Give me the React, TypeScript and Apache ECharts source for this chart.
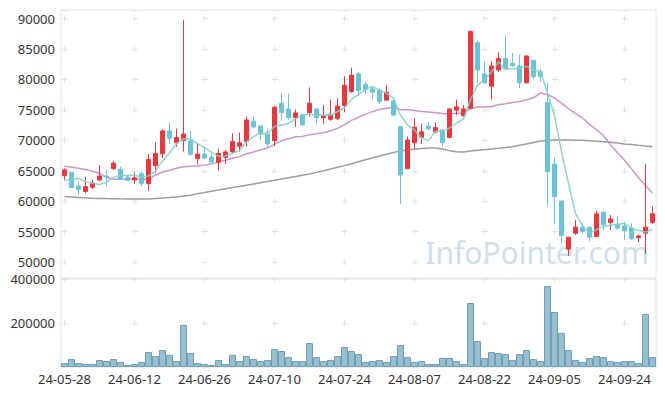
import React, { useEffect, useRef } from "react";
import * as echarts from "echarts";

const dates = [
  "24-05-28","24-05-29","24-05-30","24-05-31",
  "24-06-03","24-06-04","24-06-05","24-06-07","24-06-10","24-06-11","24-06-12","24-06-13","24-06-14","24-06-17","24-06-18","24-06-19","24-06-20","24-06-21","24-06-24","24-06-25","24-06-26","24-06-27","24-06-28",
  "24-07-01","24-07-02","24-07-03","24-07-04","24-07-05","24-07-08","24-07-09","24-07-10","24-07-11","24-07-12","24-07-15","24-07-16","24-07-17","24-07-18","24-07-19","24-07-22","24-07-23","24-07-24","24-07-25","24-07-26","24-07-29","24-07-30","24-07-31",
  "24-08-01","24-08-02","24-08-05","24-08-06","24-08-07","24-08-08","24-08-09","24-08-12","24-08-13","24-08-14","24-08-16","24-08-19","24-08-20","24-08-21","24-08-22","24-08-23","24-08-26","24-08-27","24-08-28","24-08-29","24-08-30",
  "24-09-02","24-09-03","24-09-04","24-09-05","24-09-06","24-09-09","24-09-10","24-09-11","24-09-12","24-09-13","24-09-19","24-09-20","24-09-23","24-09-24","24-09-25","24-09-26","24-09-27","24-09-30"
];

const opens = [64200,64750,62500,61600,62300,63500,64150,65350,65250,63950,63500,64500,62900,65850,67800,71550,69600,69950,69900,67000,67750,67250,66400,67200,68100,69050,69800,73150,72350,71050,69950,76100,75150,73750,74200,74550,75150,73700,73450,73550,75700,78000,80900,79150,78450,78250,76600,76500,72250,65350,69600,70500,72350,71350,71700,70450,74950,74050,75250,86050,80900,78900,81550,83450,82600,82200,79450,83150,81250,76200,66100,60050,52150,54750,55750,55750,54200,58200,56500,56250,55950,55600,54000,54750,56500];
const closes = [65150,62250,61950,62400,63000,64150,64000,66250,63600,63450,63850,62950,66900,67850,71550,70350,70450,71050,67700,67750,67100,66450,67850,68100,69800,69600,73350,72200,71000,69400,75450,74550,73700,74500,72550,76100,73700,74000,74250,75650,79050,80700,78150,78350,77900,76350,77900,74150,64300,70050,72150,71400,71900,72100,69600,75150,75500,75150,87900,81550,79450,82200,83450,81700,82250,79450,83850,80450,80450,64850,60750,54400,54100,55750,55050,54100,57950,56100,57100,55600,55200,53850,54300,55750,57950];
const lows = [63500,62200,61150,61300,62000,63250,62400,65150,63500,63350,62800,62500,61700,64600,67050,69400,68950,68150,67450,66050,66950,66350,65050,66100,67750,68150,68950,71950,70050,68950,69050,73200,73350,72250,72350,73900,72600,72700,73200,73350,74600,77800,77250,77600,76700,75950,76600,74000,59550,65300,68500,69400,71550,71150,68950,70350,74150,73900,75250,79450,79350,76700,81250,81700,82100,78550,79350,80050,79600,59150,56300,53100,51050,54500,54750,53400,54200,55200,55300,55300,53650,53650,53250,51350,56300];
const highs = [65400,64800,63250,64050,63500,65950,65150,66600,65700,64150,64700,64900,67750,69650,71850,72950,71950,89800,71550,69400,68950,67850,68600,68400,71150,71300,73900,73950,72350,71950,75650,77700,77700,75100,74200,78700,75200,75800,76700,76900,80550,81950,81250,79600,78900,78550,79050,76900,72350,70600,73600,72700,73050,72900,71700,75250,76700,75800,87950,86350,82900,83000,84450,87250,84350,84000,84000,83150,81800,79350,67200,60050,54100,56950,56400,55750,58450,58300,57750,57500,56650,56400,54500,66100,59150];

const ma5 = [63390,63500,63770,63220,62950,62750,63100,63960,64200,64290,64230,64020,64150,65000,66620,67920,69420,70250,70220,69460,68810,68010,67370,67450,67860,68360,69740,70610,71190,71110,72280,72520,72820,73520,74150,74280,74110,74170,74120,74740,75330,76730,77560,78380,78830,78290,77730,76930,74120,72550,71710,70410,69960,71520,71430,72030,72850,73500,76660,79050,79910,81250,82910,81670,81810,81810,82140,81540,81290,77810,74070,68180,62910,57970,56010,54680,55390,55790,56060,56170,56390,55570,55210,54940,55410];
const ma20 = [65790,65600,65400,65200,64900,64590,63950,63610,63600,63600,63600,63600,63610,64320,64800,65100,65420,65680,65750,65830,65930,66140,66430,66720,67060,67330,67800,68100,68470,68760,69340,69920,70260,70600,70650,70930,71100,71240,71570,71970,72560,73280,73790,74300,74710,75050,75270,75370,75040,75070,74900,74750,74660,74540,74390,74340,74430,74490,75170,75470,75490,75560,75830,75990,76210,76370,76660,76980,77790,77530,76960,76110,75220,74400,73670,72620,71740,70790,69250,67950,66740,65320,63860,62570,61350];
const ma60 = [60770,60700,60630,60560,60500,60470,60440,60420,60400,60390,60385,60385,60390,60450,60530,60610,60700,60850,61000,61250,61450,61650,61850,62050,62250,62420,62620,62820,63030,63240,63445,63650,63860,64070,64280,64480,64740,65010,65290,65570,65850,66170,66480,66800,67120,67430,67720,68000,68250,68400,68530,68650,68750,68750,68580,68310,68140,68080,68250,68360,68470,68580,68690,68830,68960,69180,69400,69650,69890,69980,70050,70060,70050,70030,70000,69920,69870,69780,69680,69560,69400,69320,69180,69070,68960];

const volumes = [18000,36000,18000,14000,14000,32000,27000,36000,23000,9000,14000,23000,68000,50000,77000,55000,27000,191000,64000,18000,14000,9000,32000,14000,55000,27000,50000,36000,27000,32000,82000,73000,45000,27000,27000,109000,45000,27000,32000,50000,91000,73000,59000,23000,27000,32000,23000,50000,100000,45000,23000,27000,14000,14000,41000,41000,27000,14000,291000,118000,41000,68000,64000,59000,32000,59000,77000,36000,27000,368000,250000,155000,77000,32000,23000,41000,50000,45000,27000,23000,27000,27000,18000,241000,45000];

const UP = "#e8383d";
const DOWN = "#6cc3d8";
const FONT = "Noto Sans";
const CROSS = "#e3e3e3";

export default function App() {
  const ref = useRef<HTMLDivElement>(null);
  useEffect(() => {
    if (!ref.current) return;
    const chart = echarts.init(ref.current, null, { renderer: "svg" });
    const candles = dates.map((_, i) => [opens[i], closes[i], lows[i], highs[i]]);
    const labelStyle = { color: "#333", fontSize: 13, fontFamily: FONT };
    chart.setOption({
      animation: false,
      backgroundColor: "#fff",
      textStyle: { fontFamily: FONT },
      grid: [
        { left: 61, top: 10, width: 595, height: 268, show: true, borderColor: "#e4e4e4", borderWidth: 1, backgroundColor: "transparent" },
        { left: 61, top: 279, width: 595, height: 88, show: true, borderColor: "#e0e0e0", borderWidth: 1, backgroundColor: "transparent" },
      ],
      graphic: [
        {
          type: "text",
          right: 16,
          top: 237,
          z: 0,
          style: { text: "InfoPointer.com", fontSize: 30, fontFamily: FONT, fill: "rgba(165,195,212,0.55)" },
        },
      ],
      xAxis: [
        {
          type: "category", gridIndex: 0, data: dates, boundaryGap: true,
          axisLine: { show: false }, axisTick: { show: false }, axisLabel: { show: false },
          splitLine: { show: true, interval: 9, alignWithLabel: true, lineStyle: { color: CROSS, width: 1, type: [6, 24.45], dashOffset: 24.95 } },
        },
        {
          type: "category", gridIndex: 1, data: dates, boundaryGap: true,
          axisLine: { show: false }, axisTick: { show: false },
          axisLabel: { ...labelStyle, interval: 9, margin: 5 },
          splitLine: { show: true, interval: 9, alignWithLabel: true, lineStyle: { color: CROSS, width: 1, type: [6, 38], dashOffset: 3 } },
        },
      ],
      yAxis: [
        {
          type: "value", gridIndex: 0, min: 47400, max: 91400, splitNumber: 9, scale: true,
          axisLine: { show: false }, axisTick: { show: false },
          axisLabel: { ...labelStyle, margin: 6, formatter: (v: number) => (v % 5000 === 0 ? String(v) : "") },
          splitLine: { show: true, lineStyle: { color: CROSS, width: 1, type: [6, 64], dashOffset: 68.5 } },
        },
        {
          type: "value", gridIndex: 1, min: 0, max: 400000, interval: 200000,
          axisLine: { show: false }, axisTick: { show: false },
          axisLabel: { ...labelStyle, margin: 6, formatter: (v: number) => (v === 0 ? "" : String(v)) },
          splitLine: { show: true, lineStyle: { color: CROSS, width: 1, type: [6, 64], dashOffset: 68.5 } },
        },
      ],
      series: [
        {
          type: "bar", xAxisIndex: 1, yAxisIndex: 1, data: volumes, barCategoryGap: "0%",
          itemStyle: { color: "#97bfcf", borderColor: "#6f9fb4", borderWidth: 1 },
          silent: true,
        },
        {
          type: "line", xAxisIndex: 0, yAxisIndex: 0, data: ma60, symbol: "none",
          lineStyle: { color: "#8c8c8c", width: 1.5, opacity: 0.85 }, silent: true, z: 3,
        },
        {
          type: "line", xAxisIndex: 0, yAxisIndex: 0, data: ma20, symbol: "none",
          lineStyle: { color: "#c78bc7", width: 1.5, opacity: 0.9 }, silent: true, z: 3,
        },
        {
          type: "candlestick", xAxisIndex: 0, yAxisIndex: 0, data: candles, barWidth: 5,
          itemStyle: { color: UP, color0: DOWN, borderColor: UP, borderColor0: DOWN, borderWidth: 1 },
          silent: true, z: 4,
        },
        {
          type: "line", xAxisIndex: 0, yAxisIndex: 0, data: ma5, symbol: "none",
          lineStyle: { color: "#86cfc2", width: 1.5, opacity: 0.9 }, silent: true, z: 5,
        },
      ],
    });
    return () => chart.dispose();
  }, []);
  return <div ref={ref} style={{ position: "fixed", left: 0, top: 0, width: 665, height: 396 }} />;
}
